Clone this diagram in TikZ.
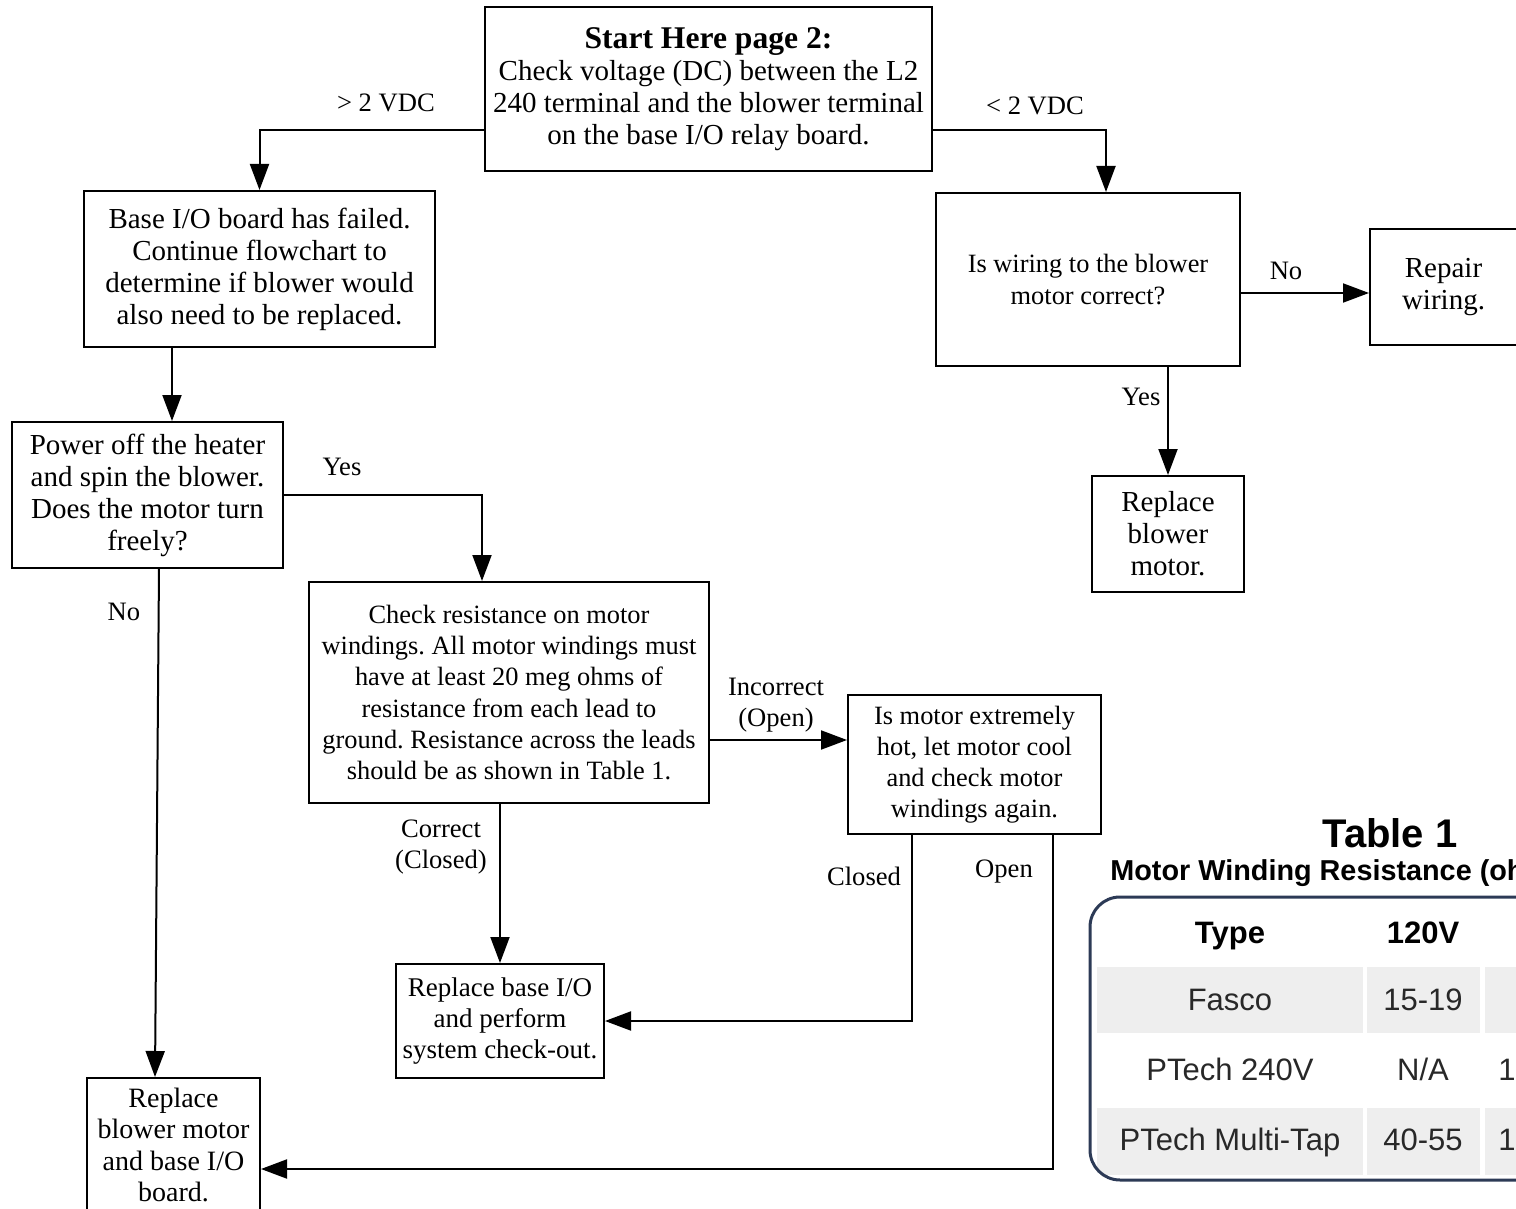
\documentclass[tikz,border=0pt]{standalone}
\usepackage{fontspec}
\setmainfont{Liberation Serif}
\newfontfamily\tablefont{Liberation Sans}
\usetikzlibrary{arrows.meta,calc}
\definecolor{tableedge}{RGB}{44,58,86}
\definecolor{rowgray}{RGB}{238,238,238}
\definecolor{celltext}{RGB}{40,40,40}
\frenchspacing

\begin{document}
\begin{tikzpicture}[x=0.5pt,y=0.5pt,yscale=-1,
    box/.style={draw,line width=1pt,align=center,inner sep=0pt,font=\fontsize{14.5}{16}\selectfont},
    smallbox/.style={box,font=\fontsize{13.2}{15.6}\selectfont},
    lbl/.style={align=center,inner sep=0pt,font=\fontsize{13.3}{15.5}\selectfont},
    arr/.style={line width=1pt,-{Triangle[length=13pt,width=9.5pt]}},
    celltxt/.style={inner sep=0pt,anchor=base,text=celltext,font=\tablefont\fontsize{15.5}{18}\selectfont},
    cellhead/.style={inner sep=0pt,anchor=base,font=\tablefont\bfseries\fontsize{15.5}{18}\selectfont}]
    \useasboundingbox (0,0) rectangle (1516,1209);
    \clip (0,0) rectangle (1516,1209);

    %Boxes, left branch
    \node[box,minimum width=223.5pt,minimum height=82pt] (start) at (708.5,89) {{\fontsize{15.8}{16}\selectfont\bfseries Start Here page 2:}\\Check voltage (DC) between the L2\\240 terminal and the blower terminal\\on the base I/O relay board.};
    \node[box,minimum width=175.5pt,minimum height=78pt] (failed) at (259.5,269) {Base I/O board has failed.\\Continue flowchart to\\determine if blower would\\also need to be replaced.};
    \node[box,minimum width=135.5pt,minimum height=73pt] (power) at (147.5,495) {Power off the heater\\and spin the blower.\\Does the motor turn\\freely?};
    \node[smallbox,minimum width=200pt,minimum height=110.5pt] (check) at (509,692.5) {Check resistance on motor\\windings. All motor windings must\\have at least 20 meg ohms of\\resistance from each lead to\\ground. Resistance across the leads\\should be as shown in Table 1.};
    \node[smallbox,minimum width=126.5pt,minimum height=69.5pt] (hot) at (974.5,764.5) {Is motor extremely\\hot, let motor cool\\and check motor\\windings again.};
    \node[box,font=\fontsize{13.5}{15.5}\selectfont,minimum width=104pt,minimum height=57pt] (baseio) at (500,1021) {Replace base I/O\\and perform\\system check-out.};
    \node[box,font=\fontsize{14}{15.8}\selectfont,minimum width=86.5pt,minimum height=67pt] (both) at (173.5,1145) {Replace\\blower motor\\and base I/O\\board.};

    %Boxes, right branch
    \node[smallbox,minimum width=152pt,minimum height=86.5pt] (wiring) at (1088,279.5) {Is wiring to the blower\\motor correct?};
    \node[box,minimum width=73.5pt,minimum height=58pt] (repair) at (1443.5,287) {Repair\\wiring.};
    \node[box,minimum width=76pt,minimum height=58pt] (blower) at (1168,534) {Replace\\blower\\motor.};

    %Connectors
    \draw[arr] ($(start.west)+(0,41)$) -| (failed.north);
    \draw[arr] ($(start.east)+(0,41)$) -| ($(wiring.north)+(18,0)$);
    \draw[arr] ($(failed.south)+(-87.5,0)$) -- ($(power.north)+(24.5,0)$);
    \draw[arr] (power.east) -| ($(check.north)+(-27,0)$);
    \draw[arr] ($(power.south)+(11.5,0)$) -- ($(both.north)+(-18.5,0)$);
    \draw[arr] ($(check.east)+(0,47.5)$) coordinate (c1) -- (c1 -| hot.west);
    \draw[arr] (baseio.north |- check.south) -- (baseio.north);
    \draw[arr] ($(hot.south)+(-62.5,0)$) |- (baseio.east);
    \draw[arr] ($(hot.south)+(78.5,0)$) |- ($(both.east)+(0,24)$);
    \draw[arr] ($(wiring.east)+(0,13.5)$) coordinate (c2) -- (c2 -| repair.west);
    \draw[arr] (blower.north |- wiring.south) -- (blower.north);

    % Text Node
    \node[lbl] (gt) at (386,103) {> 2 VDC};
    \node[lbl] (lt) at (1035,106) {< 2 VDC};
    \node[lbl] (spinyes) at (342,467) {Yes};
    \node[lbl] (spinno) at (124,612) {No};
    \node[lbl] (incorrect) at (776,705) {Incorrect\\(Open)};
    \node[lbl] (correct) at (441,847) {Correct\\(Closed)};
    \node[lbl] (hotclosed) at (864,876) {Closed};
    \node[lbl] (hotopen) at (1004,872) {Open};
    \node[lbl] (wireno) at (1286,271) {No};
    \node[lbl] (wireyes) at (1141,397) {Yes};

    %Table 1
    \node[inner sep=0pt,font=\tablefont\bfseries\fontsize{20}{22}\selectfont] (tabtitle) at (1390,833) {Table 1};
    \node[inner sep=0pt,anchor=west,font=\tablefont\bfseries\fontsize{14.4}{16}\selectfont] (tabsub) at (1110,873) {Motor Winding Resistance (ohms)};
    \begin{scope}
        \clip[rounded corners=15pt] (1090,897) rectangle (1640,1180);
        \fill[rowgray] (1097,967) rectangle (1363,1033);
        \fill[rowgray] (1367,967) rectangle (1480,1033);
        \fill[rowgray] (1485,967) rectangle (1640,1033);
        \fill[rowgray] (1097,1108) rectangle (1363,1175);
        \fill[rowgray] (1367,1108) rectangle (1480,1175);
        \fill[rowgray] (1485,1108) rectangle (1640,1175);
    \end{scope}
    \draw[tableedge,line width=1.5pt,rounded corners=15pt] (1090,897) rectangle (1640,1180);
    \node[cellhead] (hdtype) at (1230,943) {Type};
    \node[cellhead] (hdlow) at (1423,943) {120V};
    \node[celltxt] (fasco) at (1230,1010) {Fasco};
    \node[celltxt] (fascolow) at (1423,1010) {15-19};
    \node[celltxt] (ptech) at (1230,1080) {PTech 240V};
    \node[celltxt] (ptechlow) at (1423,1080) {N/A};
    \node[celltxt,anchor=base west] (ptechhigh) at (1498,1080) {1};
    \node[celltxt] (multi) at (1230,1150) {PTech Multi-Tap};
    \node[celltxt] (multilow) at (1423,1150) {40-55};
    \node[celltxt,anchor=base west] (multihigh) at (1498,1150) {1};
\end{tikzpicture}
\end{document}
